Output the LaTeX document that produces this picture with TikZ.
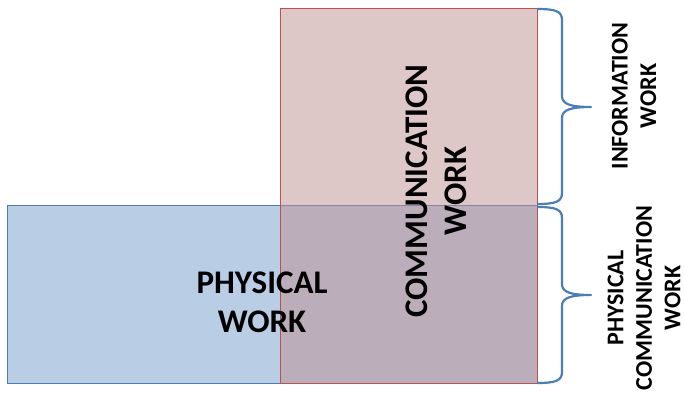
\documentclass[tikz,border=0pt]{standalone}
\usepackage{fontspec}
\setmainfont{Carlito}
\definecolor{bluefill}{RGB}{185,205,229}
\definecolor{blueline}{RGB}{74,126,187}
\definecolor{redfill}{RGB}{189,145,145}
\definecolor{redline}{RGB}{192,80,77}
\begin{document}
\begin{tikzpicture}[x=1pt,y=-1pt,
  boxblue/.style={draw=blueline,line width=1pt,fill=bluefill},
  boxred/.style={draw=redline,line width=1pt,fill=redfill,fill opacity=0.5},
  bigtext/.style={font=\fontsize{33}{39}\selectfont\bfseries,align=center,text=black,inner sep=0pt},
  smalltext/.style={font=\fontsize{24}{28.5}\selectfont\bfseries,align=center,text=black,inner sep=0pt},
  bracestyle/.style={draw=blueline,line width=2.2pt,line join=round}]
\useasboundingbox (0,0) rectangle (685,395);
\fill[white] (0,0) rectangle (685,395);
\draw[boxblue] (7,206) rectangle (537,383);
\draw[boxred] (280,9) rectangle (537,383);
\node[bigtext] (phys) at (262,302) {PHYSICAL\\WORK};
\node[bigtext,rotate=90] (comm) at (436,191) {COMMUNICATION\\WORK};
\node[smalltext,rotate=90] (info) at (634,96) {INFORMATION\\WORK};
\node[smalltext,rotate=90] (pcw) at (644,298) {PHYSICAL\\COMMUNICATION\\WORK};
\draw[bracestyle] (537,9) .. controls (555,9) and (562,11) .. (562,20) -- (562,96)
  .. controls (562,104) and (570,107) .. (591,107)
  .. controls (570,107) and (562,110) .. (562,118) -- (562,193)
  .. controls (562,202) and (555,204) .. (537,204);
\draw[bracestyle] (537,207) .. controls (555,207) and (562,209) .. (562,218) -- (562,284)
  .. controls (562,292) and (570,295) .. (591,295)
  .. controls (570,295) and (562,298) .. (562,306) -- (562,372)
  .. controls (562,381) and (555,383) .. (537,383);
\end{tikzpicture}
\end{document}
